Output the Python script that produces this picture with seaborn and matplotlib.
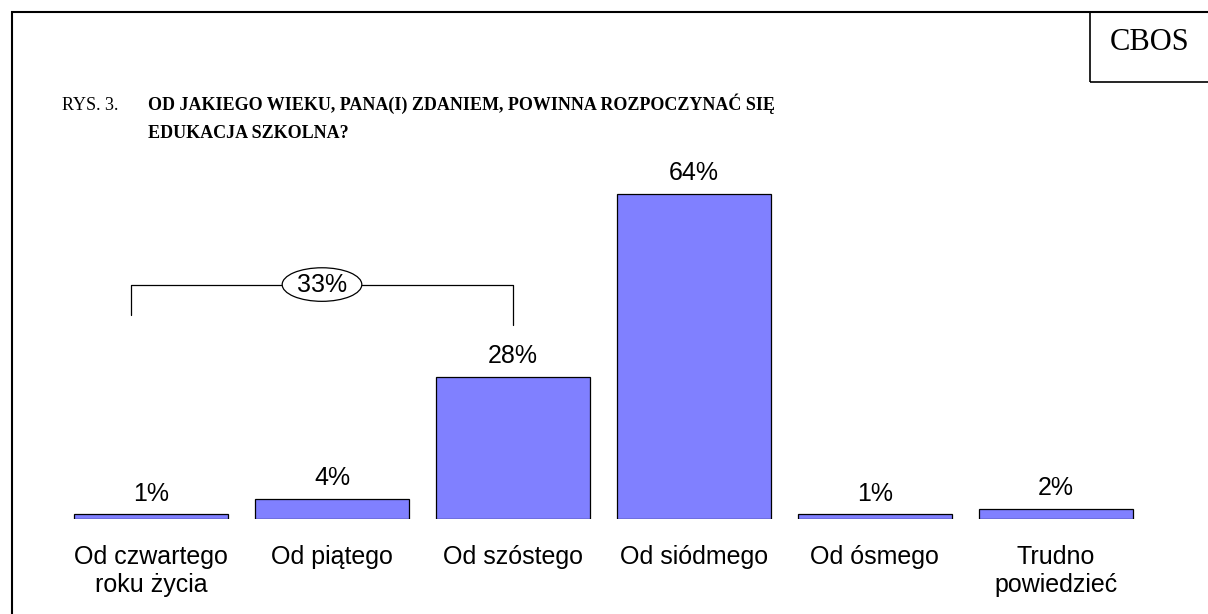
import matplotlib.pyplot as plt
import seaborn as sns
from matplotlib.patches import Ellipse, Rectangle

categories = ['Od czwartego\nroku życia', 'Od piątego', 'Od szóstego',
              'Od siódmego', 'Od ósmego', 'Trudno\npowiedzieć']
values = [1, 4, 28, 64, 1, 2]
value_labels = ['1%', '4%', '28%', '64%', '1%', '2%']
sum_label = '33%'
title_lines = ['OD JAKIEGO WIEKU, PANA(I) ZDANIEM, POWINNA ROZPOCZYNAĆ SIĘ',
               'EDUKACJA SZKOLNA?']

sns.set_theme(style='white')
plt.rcParams['font.family'] = ['Liberation Sans', 'DejaVu Sans']
plt.rcParams['text.color'] = 'black'
plt.rcParams['xtick.color'] = 'black'

fig = plt.figure(figsize=(12.08, 6.14), dpi=100)

# ramka i pole CBOS
fig.patches.append(Rectangle((12 / 1208, -0.01), 1.2, (614 - 12) / 614 + 0.01,
                             transform=fig.transFigure, fill=False,
                             edgecolor='black', linewidth=1.5))
fig.patches.append(Rectangle((1090 / 1208, (614 - 82) / 614), 0.2, 70 / 614,
                             transform=fig.transFigure, fill=False,
                             edgecolor='black', linewidth=1.2))
fig.text(1150 / 1208, (614 - 43) / 614, 'CBOS', family='Liberation Serif',
         fontsize=22, ha='center', va='center')

# tytul
fig.text(62 / 1208, (614 - 110) / 614, 'RYS. 3.', family='Liberation Serif',
         fontsize=13, ha='left', va='baseline')
for i, line in enumerate(title_lines):
    fig.text(148 / 1208, (614 - 110 - 28 * i) / 614, line,
             family='Liberation Serif', fontsize=13, fontweight='bold',
             ha='left', va='baseline')

ax = fig.add_axes([42.4 / 1208, 95 / 614, 1122 / 1208, 356 / 614])
sns.barplot(x=categories, y=values, color='#8080FF', saturation=1,
            edgecolor='black', linewidth=0.9, width=0.85, ax=ax)
ax.bar_label(ax.containers[0], labels=value_labels, padding=6, fontsize=18)

ax.set_xlim(-0.6, 5.6)
ax.set_ylim(0, 70)
ax.set_yticks([])
ax.tick_params(axis='x', length=0, pad=19, labelsize=18)
for s in ax.spines.values():
    s.set_visible(False)

# klamra 33%
ax.plot([-0.11, -0.11, 2.0, 2.0], [40.2, 46.1, 46.1, 38.2],
        color='black', linewidth=0.9, clip_on=False)
ax.add_patch(Ellipse((0.945, 46.1), 0.44, 6.6, facecolor='white',
                     edgecolor='black', linewidth=0.9, zorder=5, clip_on=False))
ax.text(0.945, 46.1, sum_label, ha='center', va='center', fontsize=18, zorder=6)

plt.savefig('out.png', dpi=100)
plt.close()
